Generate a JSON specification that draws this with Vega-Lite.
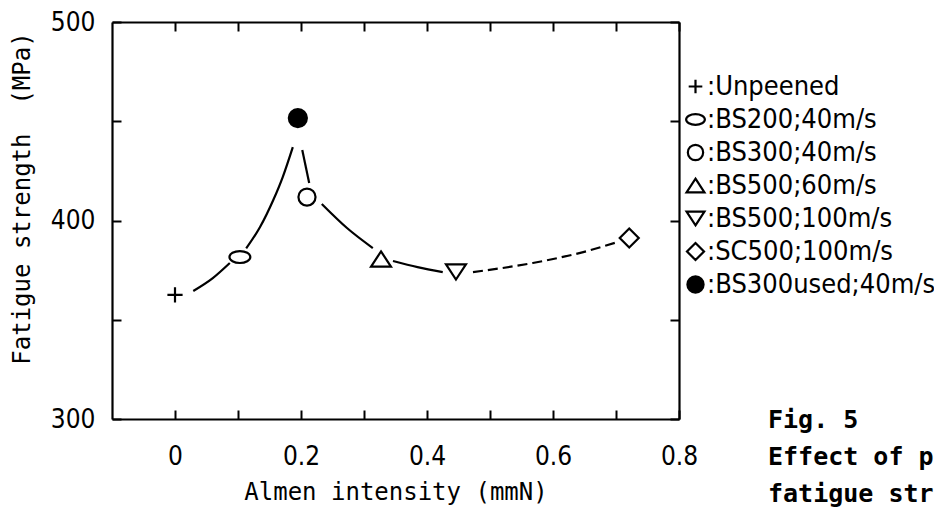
{
  "$schema": "https://vega.github.io/schema/vega-lite/v6.json",
  "autosize": "none",
  "width": 567,
  "height": 397,
  "padding": {"left": 112, "top": 22, "right": 255, "bottom": 92},
  "background": "white",
  "title": {
    "text": ["Fig. 5", "Effect of peening on", "fatigue strength"],
    "frame": "group",
    "anchor": "start",
    "orient": "top",
    "align": "left",
    "baseline": "top",
    "offset": 0,
    "dx": 656,
    "dy": 498,
    "lineHeight": 37,
    "font": "DejaVu Sans Mono",
    "fontSize": 25,
    "fontWeight": "bold",
    "color": "black"
  },
  "datasets": {
    "solid": [
      {"seg": "A", "x": 0.029, "y": 364.5},
      {"seg": "A", "x": 0.060, "y": 371.0},
      {"seg": "A", "x": 0.087, "y": 378.6},
      {"seg": "B", "x": 0.113, "y": 386.0},
      {"seg": "B", "x": 0.135, "y": 396.7},
      {"seg": "B", "x": 0.156, "y": 410.3},
      {"seg": "B", "x": 0.171, "y": 421.9},
      {"seg": "B", "x": 0.187, "y": 437.0},
      {"seg": "C", "x": 0.202, "y": 435.5},
      {"seg": "C", "x": 0.213, "y": 418.9},
      {"seg": "D", "x": 0.233, "y": 408.3},
      {"seg": "D", "x": 0.273, "y": 396.2},
      {"seg": "D", "x": 0.314, "y": 386.1},
      {"seg": "E", "x": 0.346, "y": 379.6},
      {"seg": "E", "x": 0.385, "y": 376.5},
      {"seg": "E", "x": 0.425, "y": 374.0}
    ],
    "dashed": [
      {"seg": "F", "x": 0.473, "y": 374.0},
      {"seg": "F", "x": 0.568, "y": 378.6},
      {"seg": "F", "x": 0.648, "y": 384.1},
      {"seg": "F", "x": 0.703, "y": 389.2}
    ],
    "points": [
      {"s": "Unpeened", "x": 0, "y": 362.5},
      {"s": "BS200;40m/s", "x": 0.103, "y": 381.6},
      {"s": "BS300;40m/s", "x": 0.2095, "y": 411.8},
      {"s": "BS500;60m/s", "x": 0.327, "y": 380.6},
      {"s": "BS500;100m/s", "x": 0.446, "y": 374.1},
      {"s": "SC500;100m/s", "x": 0.721, "y": 391.2},
      {"s": "BS300used;40m/s", "x": 0.195, "y": 451.6}
    ]
  },
  "layer": [
    {
      "data": {"name": "solid"},
      "mark": {"type": "line", "interpolate": "monotone", "stroke": "black", "strokeWidth": 2.2},
      "encoding": {
        "x": {
          "field": "x", "type": "quantitative",
          "scale": {"domain": [-0.1, 0.8], "nice": false, "zero": false},
          "axis": {
            "orient": "bottom",
            "values": [0, 0.1, 0.2, 0.3, 0.4, 0.5, 0.6, 0.7, 0.8],
            "labelExpr": "round(datum.value*10) % 2 == 0 ? (datum.value == 0 ? '0' : format(datum.value, '.1f')) : ''",
            "labelFlush": false,
            "labelOverlap": false,
            "labelPadding": 33,
            "title": "Almen intensity (mmN)",
            "titleFont": "DejaVu Sans Mono",
            "titleFontSize": 24,
            "titleFontWeight": "normal",
            "titleBaseline": "middle",
            "titleY": 73
          }
        },
        "y": {
          "field": "y", "type": "quantitative",
          "scale": {"domain": [300, 500], "nice": false, "zero": false},
          "axis": {
            "orient": "left",
            "values": [300, 350, 400, 450, 500],
            "labelExpr": "datum.value % 100 == 0 ? datum.label : ''",
            "labelPadding": 26,
            "labelOverlap": false,
            "title": "Fatigue strength \u00a0(MPa)",
            "titleFont": "DejaVu Sans Mono",
            "titleFontSize": 24,
            "titleFontWeight": "normal",
            "titleAngle": 270,
            "titleAlign": "center",
            "titleBaseline": "middle",
            "titleX": -90,
            "titleY": 176
          }
        },
        "detail": {"field": "seg"}
      }
    },
    {
      "data": {"name": "dashed"},
      "mark": {"type": "line", "interpolate": "monotone", "stroke": "black", "strokeWidth": 2.2, "strokeDash": [10, 5]},
      "encoding": {
        "x": {
          "field": "x", "type": "quantitative",
          "scale": {"domain": [-0.1, 0.8], "nice": false, "zero": false},
          "axis": {"orient": "top", "values": [0, 0.1, 0.2, 0.3, 0.4, 0.5, 0.6, 0.7, 0.8], "labels": false, "title": null}
        },
        "y": {
          "field": "y", "type": "quantitative",
          "scale": {"domain": [300, 500], "nice": false, "zero": false},
          "axis": {"orient": "right", "values": [300, 350, 400, 450, 500], "labels": false, "title": null}
        },
        "detail": {"field": "seg"}
      }
    },
    {
      "data": {"name": "points"},
      "mark": {"type": "point", "size": 361, "stroke": "black", "strokeWidth": 2.2, "opacity": 1},
      "encoding": {
        "x": {"field": "x", "type": "quantitative", "scale": {"domain": [-0.1, 0.8], "nice": false, "zero": false}, "axis": null},
        "y": {"field": "y", "type": "quantitative", "scale": {"domain": [300, 500], "nice": false, "zero": false}, "axis": null},
        "shape": {
          "field": "s", "type": "nominal",
          "scale": {
            "domain": ["Unpeened", "BS200;40m/s", "BS300;40m/s", "BS500;60m/s", "BS500;100m/s", "SC500;100m/s", "BS300used;40m/s"],
            "range": [
              "M-0.8,0H0.8M0,-0.8V0.8",
              "M-1.1,0A1.1,0.63,0,1,1,1.1,0A1.1,0.63,0,1,1,-1.1,0Z",
              "M-0.9,0A0.9,0.9,0,1,1,0.9,0A0.9,0.9,0,1,1,-0.9,0Z",
              "M0,-0.8L1.05,0.8L-1.05,0.8Z",
              "M0,0.8L1.05,-0.8L-1.05,-0.8Z",
              "M0,-1L1,0L0,1L-1,0Z",
              "M-0.95,0A0.95,0.95,0,1,1,0.95,0A0.95,0.95,0,1,1,-0.95,0Z"
            ]
          },
          "legend": {
            "orient": "none",
            "legendX": 570,
            "legendY": 51,
            "title": null,
            "labelExpr": "':' + datum.label",
            "labelFont": "DejaVu Sans Condensed, Roboto, sans-serif",
            "labelFontSize": 27,
            "labelColor": "black",
            "labelLimit": 400,
            "labelOffset": -2,
            "rowPadding": 5,
            "symbolSize": 290,
            "symbolStrokeColor": "black",
            "symbolStrokeWidth": 2.2,
            "symbolOpacity": 1,
            "encode": {"symbols": {"update": {"stroke": {"value": "black"}, "strokeWidth": {"value": 2.2}, "opacity": {"value": 1}}}}
          }
        },
        "fill": {
          "field": "s", "type": "nominal",
          "scale": {
            "domain": ["Unpeened", "BS200;40m/s", "BS300;40m/s", "BS500;60m/s", "BS500;100m/s", "SC500;100m/s", "BS300used;40m/s"],
            "range": ["transparent", "transparent", "transparent", "transparent", "transparent", "transparent", "black"]
          },
          "legend": {
            "orient": "none",
            "legendX": 570,
            "legendY": 51,
            "title": null,
            "labelExpr": "':' + datum.label",
            "labelFont": "DejaVu Sans Condensed, Roboto, sans-serif",
            "labelFontSize": 27,
            "labelColor": "black",
            "labelLimit": 400,
            "labelOffset": -2,
            "rowPadding": 5,
            "symbolSize": 290,
            "symbolStrokeColor": "black",
            "symbolStrokeWidth": 2.2,
            "symbolOpacity": 1,
            "encode": {"symbols": {"update": {"stroke": {"value": "black"}, "strokeWidth": {"value": 2.2}, "opacity": {"value": 1}}}}
          }
        }
      }
    }
  ],
  "resolve": {"axis": {"x": "independent", "y": "independent"}},
  "config": {
    "view": {"stroke": null},
    "axis": {
      "grid": false,
      "domainColor": "black",
      "domainWidth": 2.2,
      "tickColor": "black",
      "tickWidth": 2,
      "tickSize": -9,
      "labelFont": "DejaVu Sans Condensed, Roboto, sans-serif",
      "labelFontSize": 26,
      "labelColor": "black",
      "titleColor": "black"
    }
  }
}
